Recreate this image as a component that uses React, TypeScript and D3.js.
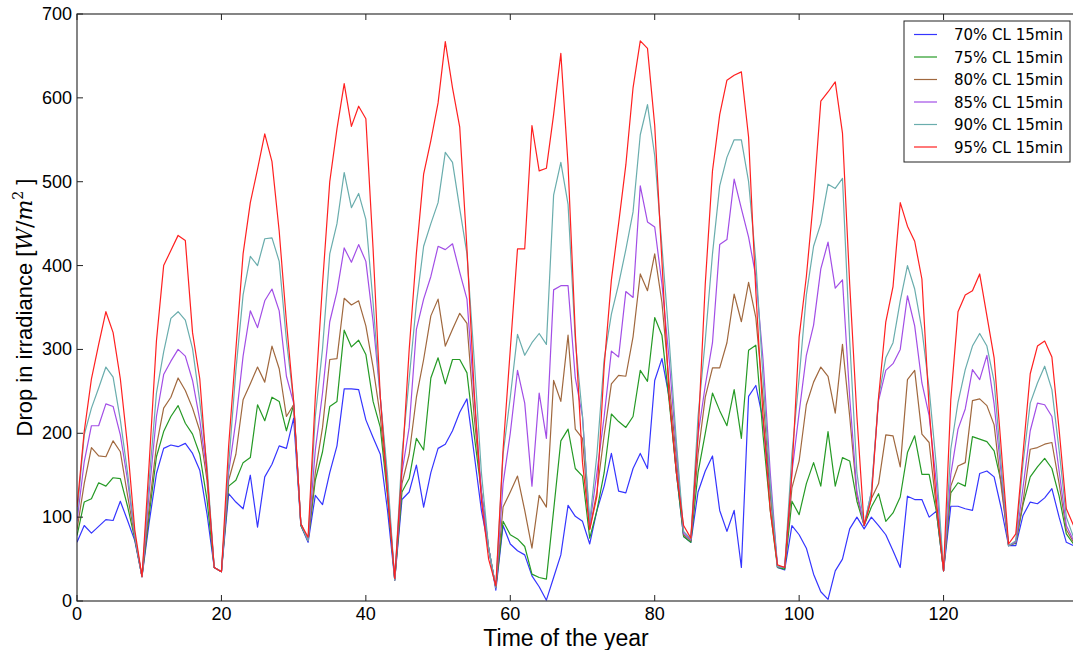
import React from 'react';
import * as d3 from 'd3';

const seriesNames = ['70% CL 15min', '75% CL 15min', '80% CL 15min', '85% CL 15min', '90% CL 15min', '95% CL 15min'];
const seriesColors = ['#3535ff', '#259a25', '#a0683e', '#a24ee6', '#6aadad', '#ff2020'];
const xTicks = [0, 20, 40, 60, 80, 100, 120, 140];
const xTickLabels = ['0', '20', '40', '60', '80', '100', '120', ''];
const yTicks = [0, 100, 200, 300, 400, 500, 600, 700];

const cl70 = [70,90,81,89,97,96,119,96,72,29,
 94,152,182,186,184,188,176,156,104,40,
 35,128,118,110,150,88,148,163,185,182,
 218,90,70,126,115,153,185,253,253,252,
 216,195,175,108,25,121,130,162,112,153,
 182,187,203,225,241,175,108,63,13,90,
 68,60,55,30,17,1,28,55,114,101,
 95,68,108,137,176,131,129,158,176,158,
 263,289,243,153,77,70,130,155,173,108,
 83,108,40,244,257,216,130,40,37,90,
 79,63,32,11,2,36,50,86,100,86,
 100,90,79,60,40,125,121,121,100,107,
 36,113,113,110,108,152,155,148,110,66,
 66,102,118,116,123,134,100,70,66];
const cl75 = [78,118,122,141,137,147,146,113,74,29,
 103,172,202,220,233,212,199,175,121,40,
 35,137,144,165,171,234,215,243,238,203,
 234,90,72,144,178,232,238,323,303,311,
 294,238,207,125,25,130,146,194,180,266,
 290,259,288,288,272,198,130,63,16,95,
 79,74,65,32,28,26,108,191,205,158,
 149,75,108,153,223,214,207,220,275,262,
 338,317,238,153,77,70,153,200,248,227,
 209,252,194,299,305,198,108,40,38,119,
 103,140,165,137,202,137,171,167,119,90,
 112,128,95,105,124,177,197,151,151,107,
 36,129,141,137,196,193,190,179,141,66,
 69,115,148,160,170,158,125,80,68];
const cl80 = [85,140,183,173,172,191,178,126,76,29,
 112,185,230,243,266,251,230,203,144,40,
 35,144,175,240,259,279,261,304,277,220,
 234,92,72,153,207,288,289,361,353,358,
 328,279,220,130,25,140,175,243,288,340,
 360,304,324,343,331,220,130,63,16,112,
 130,149,108,63,126,112,263,238,317,205,
 194,86,130,198,259,269,268,315,390,370,
 414,356,260,170,79,72,175,243,278,278,
 308,366,333,380,338,243,130,41,40,135,
 167,234,261,279,268,224,306,220,126,90,
 122,140,198,197,160,264,275,199,189,111,
 36,137,161,165,239,241,233,210,135,66,
 70,118,181,183,187,189,140,85,70];
const cl85 = [95,166,209,209,235,232,198,144,78,29,
 130,220,270,286,300,292,263,216,153,40,
 35,153,215,292,346,326,358,372,346,268,
 236,92,72,180,248,333,369,421,404,425,
 405,333,243,140,25,153,207,324,360,387,
 423,419,426,392,360,243,130,63,16,140,
 200,275,236,137,248,194,371,376,376,266,
 220,90,153,220,298,291,369,362,495,452,
 446,378,288,180,81,73,198,257,308,425,
 431,503,468,434,387,288,153,41,40,153,
 225,293,329,396,428,373,383,243,130,90,
 130,239,275,283,300,364,328,260,221,141,
 36,151,205,229,276,264,293,235,150,66,
 70,135,203,236,234,220,155,90,72];
const cl90 = [103,198,230,254,279,267,216,153,79,29,
 144,248,297,337,345,335,301,238,162,40,
 35,162,275,365,411,400,432,433,405,311,
 238,92,72,220,301,414,450,511,469,486,
 455,356,243,150,25,175,265,355,423,450,
 475,535,523,468,414,288,153,63,16,175,
 243,318,293,308,319,306,484,523,473,311,
 220,95,175,288,342,378,419,464,556,592,
 531,423,311,190,83,74,220,311,414,495,
 529,550,550,500,405,266,140,41,40,175,
 266,365,423,450,497,492,504,311,153,90,
 130,243,290,308,358,400,372,324,253,161,
 36,181,237,276,304,319,304,262,160,66,
 72,164,236,260,280,252,180,100,76];
const cl95 = [112,202,265,306,345,320,265,185,85,29,
 165,310,400,418,436,430,320,265,153,40,
 35,185,300,414,475,515,557,524,441,333,
 238,92,76,243,378,500,563,617,566,590,
 575,420,243,130,27,160,300,415,509,549,
 594,667,612,565,420,250,120,50,18,180,
 300,420,420,567,513,516,580,653,520,320,
 165,85,125,280,383,450,520,612,668,659,
 567,405,243,153,90,75,198,378,513,580,
 621,627,631,553,369,220,108,43,40,153,
 315,387,480,596,607,619,558,378,220,90,
 122,243,333,375,475,447,429,384,230,120,
 36,240,345,365,370,390,340,290,180,68,
 80,176,271,304,310,291,204,110,90];

const seriesValues = [cl70, cl75, cl80, cl85, cl90, cl95];

const W = 1073;
const H = 650;
const left = 77;
const right = 1088;
const top = 14;
const bottom = 601;

export default function App() {
  const x = d3.scaleLinear().domain([0, 140]).range([left, right]);
  const y = d3.scaleLinear().domain([0, 700]).range([bottom, top]);
  const line = d3.line<number>().x((_, i) => x(i)).y((d) => y(d));
  const tickFont = '"Liberation Sans", Arial, sans-serif';
  const legX = 904, legY = 21, legW = 166, legH = 141;
  return (
    <svg width={W} height={H} style={{ position: 'absolute', left: 0, top: 0, background: '#fff' }}>
      <rect x={0} y={0} width={W} height={H} fill="#fff" />
      <defs>
        <clipPath id="plotclip">
          <rect x={left} y={top} width={right - left} height={bottom - top} />
        </clipPath>
      </defs>
      <g clipPath="url(#plotclip)">
        {seriesValues.map((vals, k) => (
          <path key={k} d={line(vals) || ''} fill="none" stroke={seriesColors[k]} strokeWidth={1.2} strokeLinejoin="round" />
        ))}
      </g>
      <rect x={left} y={top} width={right - left} height={bottom - top} fill="none" stroke="#222" strokeWidth={1.1} />
      {xTicks.map((t, i) => (
        <g key={'xt' + t}>
          <line x1={x(t)} x2={x(t)} y1={bottom} y2={bottom - 6} stroke="#222" strokeWidth={1} />
          <line x1={x(t)} x2={x(t)} y1={top} y2={top + 6} stroke="#222" strokeWidth={1} />
          {xTickLabels[i] ? (
            <text x={x(t)} y={bottom + 19} textAnchor="middle" fontFamily={tickFont} fontSize={18} fill="#000">{xTickLabels[i]}</text>
          ) : null}
        </g>
      ))}
      {yTicks.map((t) => (
        <g key={'yt' + t}>
          <line x1={left} x2={left + 6} y1={y(t)} y2={y(t)} stroke="#222" strokeWidth={1} />
          <line x1={right} x2={right - 6} y1={y(t)} y2={y(t)} stroke="#222" strokeWidth={1} />
          <text x={left - 5} y={y(t) + 6} textAnchor="end" fontFamily={tickFont} fontSize={18} fill="#000">{t}</text>
        </g>
      ))}
      <text x={566} y={646} textAnchor="middle" fontFamily={tickFont} fontSize={23} fill="#000">Time of the year</text>
      <text transform={`translate(32, ${(top + bottom) / 2}) rotate(-90)`} textAnchor="middle" fontFamily={tickFont} fontSize={22} fill="#000">
        <tspan>Drop in irradiance [</tspan>
        <tspan fontFamily='"DejaVu Serif", serif' fontStyle="italic">W</tspan>
        <tspan fontFamily='"DejaVu Serif", serif'>/</tspan>
        <tspan fontFamily='"DejaVu Serif", serif' fontStyle="italic">m</tspan>
        <tspan fontFamily='"DejaVu Serif", serif' fontSize={14} dy={-9}>2</tspan>
        <tspan dy={9}> ]</tspan>
      </text>
      <rect x={legX} y={legY} width={legW} height={legH} fill="#fff" stroke="#222" strokeWidth={1} />
      {seriesNames.map((name, k) => {
        const cy = legY + 13.5 + k * 22.5;
        return (
          <g key={name}>
            <line x1={914} x2={937} y1={cy} y2={cy} stroke={seriesColors[k]} strokeWidth={1.2} />
            <text x={954} y={cy + 5.5} fontFamily='"DejaVu Sans", sans-serif' fontSize={15} fill="#000">{name}</text>
          </g>
        );
      })}
    </svg>
  );
}
